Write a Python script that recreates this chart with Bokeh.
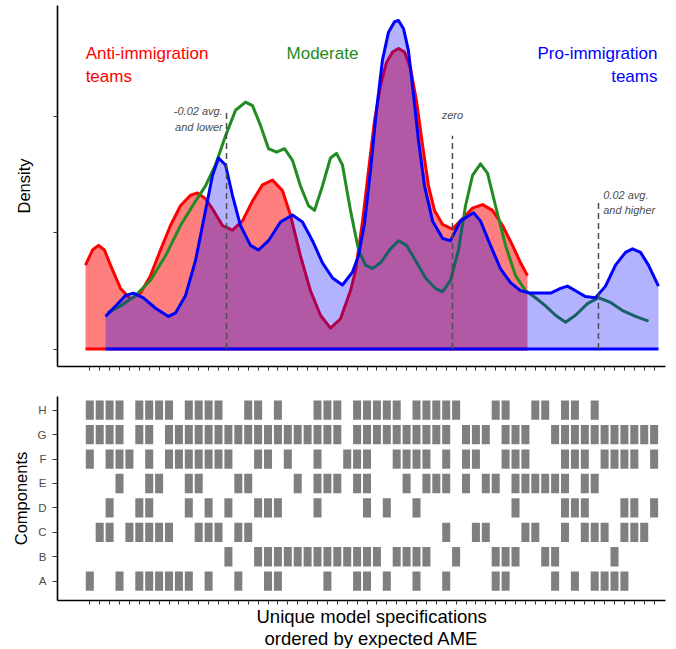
from bokeh.plotting import figure
from bokeh.layouts import column
from bokeh.models import Range1d, FixedTicker, Title
from bokeh.core.properties import value
from bokeh.embed import file_html
from bokeh.resources import INLINE

FONT = "Liberation Sans"

# ---------------- data ----------------
spec_ticks = list(range(58))
components = ["A", "B", "C", "D", "E", "F", "G", "H"]

comp_A = [0, 3, 5, 6, 7, 8, 9, 10, 12, 15, 18, 19, 24, 27, 28, 30, 33, 36, 41, 42, 47, 49, 51, 52, 53, 54]
comp_B = [14, 17, 18, 19, 20, 21, 22, 23, 24, 25, 26, 27, 28, 29, 31, 32, 33, 34, 37, 41, 42, 43, 46, 47, 53]
comp_C = [1, 2, 4, 5, 6, 7, 8, 11, 12, 13, 15, 16, 36, 39, 40, 44, 45, 48, 50, 51, 52, 54, 55, 56]
comp_D = [2, 5, 6, 10, 12, 14, 17, 18, 19, 23, 28, 30, 33, 43, 48, 49, 50, 54, 55, 57]
comp_E = [3, 6, 7, 10, 11, 15, 16, 21, 23, 24, 25, 27, 28, 32, 34, 35, 36, 38, 40, 41, 43, 44, 45, 46, 47, 48, 50, 51]
comp_F = [0, 2, 3, 4, 6, 8, 9, 10, 11, 12, 13, 14, 17, 18, 20, 23, 26, 27, 28, 31, 32, 33, 34, 36, 38, 39,
          42, 43, 44, 48, 49, 50, 52, 53, 54, 55, 57]
comp_G = [0, 1, 2, 3, 5, 6, 8, 9, 10, 11, 12, 13, 14, 15, 16, 17, 18, 19, 20, 21, 22, 23, 24, 25, 27, 28, 29,
          30, 31, 32, 33, 34, 35, 36, 38, 39, 40, 42, 43, 44, 47, 48, 49, 50, 51, 52, 53, 54, 55, 56, 57]
comp_H = [0, 1, 2, 3, 5, 6, 7, 8, 10, 11, 12, 13, 16, 17, 19, 23, 24, 25, 27, 28, 29, 30, 31, 33, 34, 35, 36,
          37, 41, 42, 45, 46, 48, 49, 51]

# density curves (x = specification rank, y = density, arbitrary units)
red_x = [-0.43, 0.27, 0.88, 1.48, 2.09, 3.10, 4.11, 5.12, 6.13, 7.14, 8.15, 9.16, 10.17, 10.88, 11.69, 12.49,
         13.40, 14.41, 15.42, 16.43, 17.44, 18.45, 19.46, 20.27, 21.28, 22.29, 23.30, 24.31, 25.32, 26.33,
         26.84, 27.55, 28.15, 28.76, 29.36, 29.97, 30.58, 31.18, 31.79, 32.39, 33.00, 33.61, 34.21, 34.82,
         35.63, 36.63, 37.65, 38.66, 39.67, 40.68, 41.69, 42.70, 43.51, 44.21]
red_y = [0.72, 0.85, 0.89, 0.85, 0.72, 0.52, 0.43, 0.48, 0.63, 0.85, 1.06, 1.23, 1.32, 1.34, 1.29, 1.19,
         1.06, 1.02, 1.10, 1.27, 1.41, 1.45, 1.36, 1.15, 0.80, 0.50, 0.29, 0.18, 0.26, 0.50,
         0.67, 1.10, 1.53, 1.96, 2.26, 2.46, 2.55, 2.58, 2.55, 2.41, 2.13, 1.75, 1.40, 1.19,
         1.07, 1.03, 1.12, 1.21, 1.24, 1.19, 1.06, 0.89, 0.74, 0.63]

green_x = [1.79, 3.10, 4.62, 6.13, 7.65, 9.16, 10.68, 11.69, 12.69, 13.71, 14.72, 15.73, 16.43, 17.24, 18.05,
           18.86, 19.67, 20.47, 21.28, 22.09, 22.70, 23.50, 24.31, 24.92, 25.52, 26.33, 27.14, 27.85, 28.55,
           29.36, 30.37, 31.18, 31.99, 32.90, 33.91, 34.92, 35.63, 36.43, 37.24, 37.95, 38.66, 39.46, 40.17,
           40.98, 41.99, 43.00, 44.01, 45.02, 46.03, 47.04, 48.05, 49.06, 50.27, 51.38, 52.60, 53.81, 55.12,
           56.43]
green_y = [0.31, 0.37, 0.46, 0.59, 0.80, 1.06, 1.27, 1.40, 1.58, 1.83, 2.05, 2.12, 2.09, 1.92, 1.72,
           1.69, 1.72, 1.62, 1.40, 1.23, 1.19, 1.40, 1.64, 1.68, 1.58, 1.19, 0.85, 0.72, 0.69,
           0.74, 0.86, 0.93, 0.89, 0.76, 0.61, 0.52, 0.49, 0.59, 0.85, 1.23, 1.49, 1.59, 1.51,
           1.23, 0.89, 0.63, 0.50, 0.44, 0.37, 0.29, 0.23, 0.29, 0.39, 0.44, 0.40, 0.33, 0.28,
           0.24]

blue_x = [1.59, 2.60, 3.61, 4.41, 5.42, 6.64, 7.95, 8.66, 9.67, 10.68, 11.69, 12.39, 13.00, 13.71, 14.41,
          15.22, 16.23, 17.04, 18.05, 19.26, 20.47, 21.48, 22.49, 23.50, 24.52, 25.52, 26.53, 27.14, 27.75,
          28.35, 28.96, 29.56, 30.17, 30.78, 31.18, 31.69, 32.19, 32.70, 33.20, 33.81, 34.62, 35.63, 36.43,
          37.44, 38.76, 39.46, 40.47, 41.48, 42.49, 43.51, 44.51, 45.53, 46.54, 47.55, 48.25, 49.06, 50.07,
          51.08, 52.09, 53.10, 54.11, 54.82, 55.63, 56.43, 57.44]
blue_y = [0.28, 0.37, 0.46, 0.48, 0.44, 0.35, 0.28, 0.31, 0.46, 0.76, 1.19, 1.49, 1.64, 1.58, 1.32,
          1.06, 0.89, 0.85, 0.93, 1.09, 1.15, 1.09, 0.93, 0.74, 0.61, 0.55, 0.66, 0.80, 1.08,
          1.53, 2.05, 2.48, 2.72, 2.81, 2.82, 2.75, 2.56, 2.18, 1.79, 1.40, 1.10, 0.95, 0.93,
          1.10, 1.17, 1.10, 0.89, 0.69, 0.57, 0.50, 0.48, 0.48, 0.48, 0.52, 0.54, 0.50, 0.45,
          0.44, 0.54, 0.72, 0.83, 0.86, 0.83, 0.72, 0.54]

# reference cut-offs (dashed lines)
cut_x = [13.81, 36.63, 51.38]
cut_top = [2.05, 1.83, 1.27]

# ---------------- figures ----------------
x_range = Range1d(-3.263, 58.15)

p1 = figure(frame_width=608, frame_height=361, x_range=x_range, y_range=Range1d(-0.150, 2.949),
            output_backend="svg", toolbar_location=None,
            min_border_left=57, min_border_right=7, min_border_top=5, min_border_bottom=20)
p2 = figure(frame_width=608, frame_height=204, x_range=x_range, y_range=Range1d(0.21, 8.56),
            output_backend="svg", toolbar_location=None,
            min_border_left=57, min_border_right=7, min_border_top=10, min_border_bottom=10)

for p in (p1, p2):
    p.outline_line_color = None
    p.grid.visible = False
    for ax in (p.xaxis[0], p.yaxis[0]):
        ax.axis_line_color = "black"
        ax.axis_line_width = 1.6
        ax.major_tick_line_color = "#333333"
        ax.major_tick_line_width = 1
        ax.major_tick_in = 0
        ax.minor_tick_line_color = None
        ax.axis_label_text_font = FONT
        ax.axis_label_text_font_style = "normal"
        ax.axis_label_text_font_size = "16.5px"
        ax.axis_label_text_color = "black"
    p.xaxis.ticker = FixedTicker(ticks=spec_ticks)
    p.xaxis.major_label_text_font_size = "0px"
    p.xaxis.major_label_text_color = None
    p.xaxis.major_label_standoff = 0
    p.xaxis.major_tick_out = 4

# top panel axes
p1.yaxis.ticker = FixedTicker(ticks=[0, 1, 2])
p1.yaxis.major_label_text_font_size = "0px"
p1.yaxis.major_label_text_color = None
p1.yaxis.major_label_standoff = 0
p1.yaxis.major_tick_out = 4
p1.yaxis.axis_label = "Density"
p1.yaxis.axis_label_standoff = 21

# densities
p1.varea(x=red_x, y1=[0] * len(red_x), y2=red_y, fill_color="#ff0000", fill_alpha=0.5)
p1.line(red_x, red_y, line_color="#ff0000", line_width=3, line_join="round")
p1.line([red_x[0], red_x[-1]], [0, 0], line_color="#ff0000", line_width=3)
p1.line(green_x, green_y, line_color="#228b22", line_width=3, line_join="round")
p1.varea(x=blue_x, y1=[0] * len(blue_x), y2=blue_y, fill_color="#0000ff", fill_alpha=0.3)
p1.line(blue_x, blue_y, line_color="#0000ff", line_width=3, line_join="round")
p1.line([blue_x[0], blue_x[-1]], [0, 0], line_color="#0000ff", line_width=3)

p1.segment(x0=cut_x, y0=[0] * 3, x1=cut_x, y1=cut_top, line_color="#4d4d4d",
           line_width=1.5, line_dash="6 4")

# notes at the cut-offs
p1.text(x=[13.43, 13.43], y=[2.04, 1.91], text=["-0.02 avg.", "and lower"],
        text_font=value(FONT), text_font_size="11px", text_font_style="italic",
        text_color="#4d4d4d", text_align="right", text_baseline="alphabetic")
p1.text(x=[36.63], y=[2.01], text=["zero"],
        text_font=value(FONT), text_font_size="11px", text_font_style="italic",
        text_color="#4d4d4d", text_align="center", text_baseline="alphabetic")
p1.text(x=[51.86, 51.86], y=[1.32, 1.19], text=["0.02 avg.", "and higher"],
        text_font=value(FONT), text_font_size="11px", text_font_style="italic",
        text_color="#4d4d4d", text_align="left", text_baseline="alphabetic")

# group labels
p1.text(x=[-0.42, -0.42], y=[2.54, 2.34], text=["Anti-immigration", "teams"],
        text_font=value(FONT), text_font_size="17px", text_color="#ff0000",
        text_align="left", text_baseline="alphabetic")
p1.text(x=[23.5], y=[2.54], text=["Moderate"],
        text_font=value(FONT), text_font_size="17px", text_color="#228b22",
        text_align="center", text_baseline="alphabetic")
p1.text(x=[57.34, 57.34], y=[2.54, 2.34], text=["Pro-immigration", "teams"],
        text_font=value(FONT), text_font_size="17px", text_color="#0000ff",
        text_align="right", text_baseline="alphabetic")

# bottom panel: component grid
comp_lists = [comp_A, comp_B, comp_C, comp_D, comp_E, comp_F, comp_G, comp_H]
tx, ty = [], []
for i, lst in enumerate(comp_lists):
    for k in lst:
        tx.append(k)
        ty.append(i + 1)
p2.rect(x=tx, y=ty, width=0.81, height=0.79, fill_color="#7f7f7f", line_color=None)

p2.yaxis.ticker = FixedTicker(ticks=list(range(1, 9)))
p2.yaxis.major_label_overrides = {i + 1: c for i, c in enumerate(components)}
p2.yaxis.major_label_text_font = FONT
p2.yaxis.major_label_text_font_size = "11.5px"
p2.yaxis.major_label_text_color = "#4d4d4d"
p2.yaxis.major_tick_out = 5
p2.yaxis.major_label_standoff = 6
p2.yaxis.axis_label = "Components"
p2.yaxis.axis_label_standoff = 5

t1 = Title(text="Unique model specifications", align="left", offset=199, standoff=-2,
           text_font=FONT, text_font_size="18.5px", text_font_style="normal", text_color="black")
t2 = Title(text="ordered by expected AME", align="left", offset=207, standoff=0,
           text_font=FONT, text_font_size="18.5px", text_font_style="normal", text_color="black")
p2.add_layout(t1, "below")
p2.add_layout(t2, "below")

layout = column(p1, p2, spacing=0)
open("out.html", "w").write(file_html(layout, INLINE))
